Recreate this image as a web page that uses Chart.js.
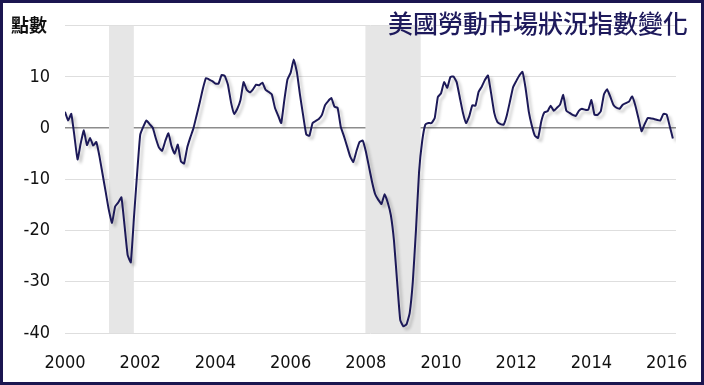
<!DOCTYPE html>
<html>
<head>
<meta charset="utf-8">
<script src="https://cdn.jsdelivr.net/npm/chart.js@4/dist/chart.umd.min.js"></script>
<style>
  html, body { margin: 0; padding: 0; background: #fff; }
  #wrap { width: 704px; height: 385px; position: relative; }
</style>
</head>
<body>
<div id="wrap"><canvas id="lmciChart"></canvas></div>
<script>
// Labor Market Conditions Index, monthly from Jan 2000 to Mar 2016
const startYear = 2000;
const lmciValues = [
  3.2, 1.5, 2.8, -1.5, -6.1, -3.0, -0.4, -3.3, -1.9, -3.4, -2.7, -5.5,
  -9.0, -12.5, -16.0, -18.5, -15.3, -14.5, -13.5, -19.0, -24.8, -26.2, -17.5, -9.0,
  -1.3, 0.3, 1.5, 0.8, 0.1, -2.0, -3.8, -4.4, -2.5, -1.0, -3.5, -5.0,
  -3.2, -6.5, -6.9, -3.8, -1.8, 0.0, 2.5, 5.0, 7.7, 9.8, 9.5, 9.2,
  8.7, 8.7, 10.4, 10.2, 8.5, 5.0, 2.8, 3.8, 5.5, 9.0, 7.5, 7.0,
  7.6, 8.5, 8.4, 8.9, 7.5, 7.1, 6.6, 4.0, 2.5, 1.0, 5.5, 9.5,
  10.8, 13.4, 11.0, 6.5, 2.5, -1.2, -1.5, 1.0, 1.4, 1.8, 2.6, 4.5,
  5.3, 5.9, 4.2, 4.0, 0.3, -1.5, -3.5, -5.5, -6.6, -4.5, -2.7, -2.4,
  -4.5, -7.5, -10.5, -12.9, -14.0, -14.8, -12.9, -14.5, -17.0, -22.0, -30.0, -37.5,
  -38.7, -38.3, -36.1, -30.0, -20.0, -8.5, -2.5, 0.7, 1.0, 1.0, 2.0, 6.1,
  6.8, 9.0, 7.9, 10.0, 10.1, 9.0, 6.0, 3.0, 1.0, 2.3, 4.5, 4.4,
  7.1, 8.1, 9.4, 10.3, 6.8, 3.0, 1.2, 0.8, 0.7, 2.5, 5.2, 8.0,
  9.2, 10.3, 11.0, 7.8, 3.3, 0.5, -1.5, -1.9, 1.3, 3.1, 3.3, 4.4,
  3.4, 4.0, 4.6, 6.5, 3.4, 3.0, 2.6, 2.4, 3.4, 3.8, 3.6, 3.6,
  5.5, 2.6, 2.6, 3.3, 6.6, 7.6, 6.2, 4.6, 4.0, 3.8, 4.6, 4.9,
  5.2, 6.2, 4.5, 2.0, -0.6, 0.8, 2.0, 1.9, 1.8, 1.6, 1.5, 2.8,
  2.7, 0.4, -2.0
];
const xTickYears = [2000, 2002, 2004, 2006, 2008, 2010, 2012, 2014, 2016];
const yTicks = [-40, -30, -20, -10, 0, 10, 20];
const recessionStart = [2001.17, 2007.99];
const recessionEnd = [2001.83, 2009.46];
const titleText = '美國勞動市場狀況指數變化';
const unitText = '點數';

const points = lmciValues.map((v, i) => ({ x: startYear + i / 12, y: v }));

const tickFont = { family: "'Liberation Sans Narrow', 'DejaVu Sans Condensed', sans-serif", size: 18 };

// grey recession bars behind the line
const recessionBands = {
    id: 'recessionBands',
    beforeDatasetsDraw(chart) {
        const { ctx, chartArea, scales } = chart;
        ctx.save();
        ctx.fillStyle = '#e6e6e6';
        recessionStart.forEach((s, i) => {
            const x1 = scales.x.getPixelForValue(s);
            const x2 = scales.x.getPixelForValue(recessionEnd[i]);
            ctx.fillRect(x1, chartArea.top, x2 - x1, chartArea.bottom - chartArea.top);
        });
        ctx.restore();
    }
};

// soft shadow under the line
const lineShadow = {
    id: 'lineShadow',
    beforeDatasetsDraw(chart) {
        const ctx = chart.ctx;
        ctx.save();
        ctx.shadowColor = 'rgba(0, 0, 0, 0.22)';
        ctx.shadowBlur = 3;
        ctx.shadowOffsetX = 3;
        ctx.shadowOffsetY = 3;
    },
    afterDatasetsDraw(chart) {
        chart.ctx.restore();
    }
};

// title, unit label and frame
const decorations = {
    id: 'decorations',
    afterDraw(chart) {
        const { ctx, width, height } = chart;
        ctx.save();
        ctx.textBaseline = 'middle';
        ctx.fillStyle = '#1e1a5c';
        ctx.font = "500 25px 'Noto Sans CJK TC', sans-serif";
        ctx.textAlign = 'right';
        ctx.fillText(titleText, 688, 23);
        ctx.fillStyle = '#111';
        ctx.font = "bold 18px 'Noto Sans CJK TC', sans-serif";
        ctx.textAlign = 'left';
        ctx.fillText(unitText, 11, 25);
        ctx.strokeStyle = '#1b1650';
        ctx.lineWidth = 3;
        ctx.strokeRect(1.5, 1.5, width - 3, height - 3);
        ctx.restore();
    }
};

const lmciChart = new Chart(document.getElementById('lmciChart').getContext('2d'), {
    type: 'line',
    data: {
        datasets: [{
            label: 'LMCI',
            data: points,
            borderColor: '#1c1958',
            borderWidth: 2,
            pointRadius: 0,
            tension: 0.12,
            fill: false
        }]
    },
    options: {
        responsive: true,
        maintainAspectRatio: false,
        animation: false,
        layout: { padding: { left: 2, right: 28, top: 23, bottom: 0 } },
        plugins: {
            legend: { display: false },
            tooltip: { enabled: false }
        },
        scales: {
            x: {
                type: 'linear',
                min: 2000,
                max: 2016.25,
                afterBuildTicks(scale) {
                    scale.ticks = xTickYears.map(v => ({ value: v }));
                },
                afterFit(scale) { scale.height = 52; },
                grid: { display: false },
                border: { display: false },
                ticks: {
                    color: '#111',
                    font: tickFont,
                    padding: 12,
                    maxRotation: 0,
                    autoSkip: false,
                    callback: v => String(v)
                }
            },
            y: {
                min: -40,
                max: 20,
                afterBuildTicks(scale) {
                    scale.ticks = yTicks.map(v => ({ value: v }));
                },
                afterFit(scale) { scale.width = 63; },
                border: { display: false },
                grid: {
                    drawTicks: false,
                    color: ctx => ctx.tick.value === 0 ? '#8c8c8c' : '#dedede',
                    lineWidth: ctx => ctx.tick.value === 0 ? 1.6 : 1
                },
                ticks: {
                    color: '#111',
                    font: tickFont,
                    padding: 15,
                    callback: v => v === 20 ? '' : String(v)
                }
            }
        }
    },
    plugins: [recessionBands, lineShadow, decorations]
});
</script>
</body>
</html>
